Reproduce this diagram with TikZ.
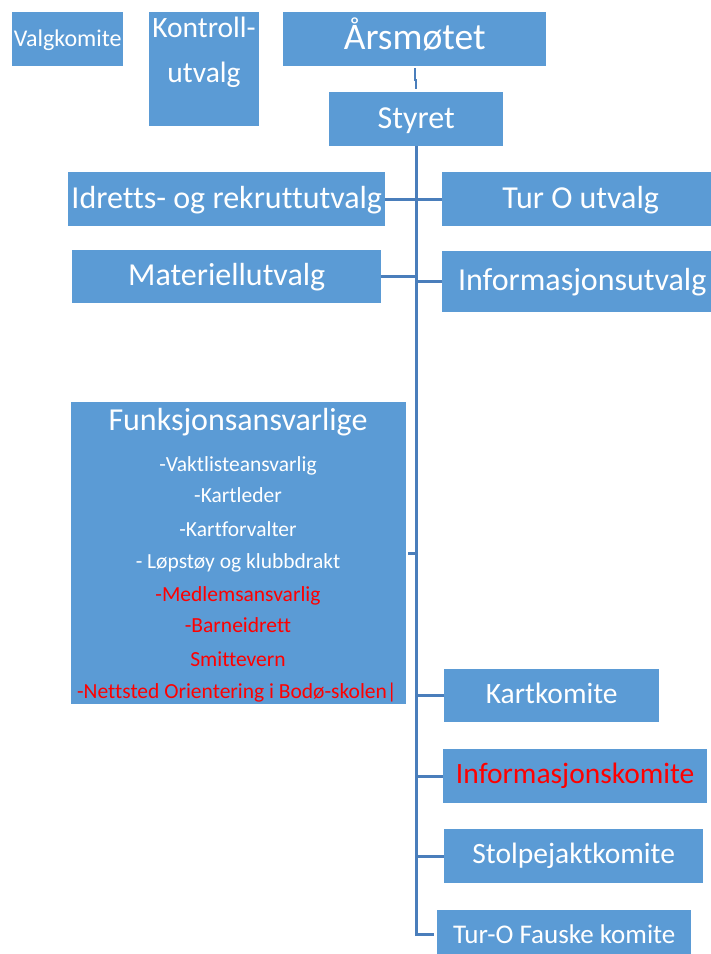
\documentclass[tikz,border=0pt]{standalone}
\usepackage{fontspec}
\setmainfont{Carlito}[Ligatures=NoCommon]
\definecolor{boxblue}{HTML}{5B9BD5}
\definecolor{lineblue}{HTML}{4A7EBB}
\definecolor{redtxt}{HTML}{FF0000}
\tikzset{
  orgbox/.style={rectangle, fill=boxblue, draw=none, inner sep=0pt, anchor=north west, text=white, text depth=0pt},
  conn/.style={draw=lineblue, line width=2.6pt},
  fs/.style={font=\fontsize{#1}{#1}\selectfont},
  itemtxt/.style={text=white, inner sep=0pt, anchor=base, fs=21.5},
}
\begin{document}
\begin{tikzpicture}[x=1pt,y=-1pt]
\useasboundingbox (0,0) rectangle (711,954);
% top row
\node[orgbox, fs=24, minimum width=111, minimum height=54, text height=14pt] (valg) at (12,12) {Valgkomite};
\node[orgbox, minimum width=110, minimum height=114] (kontroll) at (149,12) {};
\node[itemtxt, fs=29.5] (kt1) at (204,37) {Kontroll-};
\node[itemtxt, fs=29.5] (kt2) at (204,82) {utvalg};
\node[orgbox, fs=37.5, minimum width=263, minimum height=54, text height=20pt] (aars) at (283,12) {Årsmøtet};
\node[orgbox, fs=32, minimum width=174, minimum height=54, text height=18pt] (styret) at (329,92) {Styret};
% utvalg
\node[orgbox, fs=32, minimum width=317, minimum height=54, text height=18pt] (idretts) at (68,172) {Idretts- og rekruttutvalg};
\node[orgbox, fs=32, minimum width=277, minimum height=54, text height=18pt] (turout) at (442,172) {Tur O utvalg};
\node[orgbox, fs=32, minimum width=309, minimum height=53, text height=17pt] (mat) at (72,250) {Materiellutvalg};
\node[orgbox, fs=32, minimum width=280, minimum height=61, text height=17pt] (info) at (442,251) {Informasjonsutvalg};
% funksjonsansvarlige
\node[orgbox, minimum width=335, minimum height=302] (funk) at (71,402) {};
\node[itemtxt, fs=32] (ft) at (238,430) {Funksjonsansvarlige};
\node[itemtxt] (f1) at (238,471) {-Vaktlisteansvarlig};
\node[itemtxt] (f2) at (238,502) {-Kartleder};
\node[itemtxt] (f3) at (238,536) {-Kartforvalter};
\node[itemtxt] (f4) at (238,568) {- Løpstøy og klubbdrakt};
\node[itemtxt, text=redtxt] (f5) at (238,601) {-Medlemsansvarlig};
\node[itemtxt, text=redtxt] (f6) at (238,632) {-Barneidrett};
\node[itemtxt, text=redtxt] (f7) at (238,666) {Smittevern};
\node[itemtxt, text=redtxt] (f8) at (237,698) {-Nettsted Orientering i Bodø-skolen|};
% komiteer
\node[orgbox, fs=29.5, minimum width=215, minimum height=53, text height=15pt] (kart) at (444,669) {Kartkomite};
\node[orgbox, fs=29.5, minimum width=264, minimum height=54, text height=14pt, text=redtxt] (infok) at (443,749) {Informasjonskomite};
\node[orgbox, fs=29.5, minimum width=259, minimum height=54, text height=14pt] (stolpe) at (444,829) {Stolpejaktkomite};
\node[orgbox, fs=27, minimum width=254, minimum height=48, text height=18pt] (turo) at (437,910) {Tur-O Fauske komite};
% connectors
\draw[conn, line width=2pt] ([yshift=-2pt]aars.south) -- ++(0,12) coordinate (jog) -- (jog -| styret.north) -- ([yshift=3pt]styret.north);
\draw[conn] (styret.south) |- ([xshift=-3pt]turo.west);
\draw[conn] (idretts.east) -- (turout.west);
\draw[conn] (mat.east) -- (mat.east -| styret.south);
\draw[conn] (info.west) -- (info.west -| styret.south);
\draw[conn] ([xshift=2pt]funk.east) -- (funk.east -| styret.south);
\draw[conn] (kart.west) -- (kart.west -| styret.south);
\draw[conn] (infok.west) -- (infok.west -| styret.south);
\draw[conn] (stolpe.west) -- (stolpe.west -| styret.south);
\end{tikzpicture}
\end{document}
